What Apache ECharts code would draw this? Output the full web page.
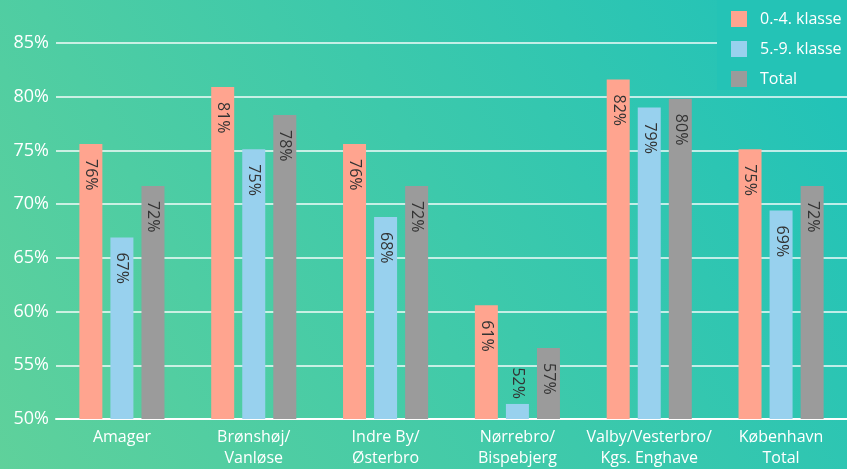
<!DOCTYPE html>
<html>
<head>
<meta charset="utf-8">
<script src="https://cdn.jsdelivr.net/npm/echarts@6/dist/echarts.min.js"></script>
<style>
html,body{margin:0;padding:0;}
#c{width:847px;height:469px;}
</style>
</head>
<body>
<div id="c"></div>
<script>
const categories = ['Amager', 'Brønshøj/\nVanløse', 'Indre By/\nØsterbro', 'Nørrebro/\nBispebjerg', 'Valby/Vesterbro/\nKgs. Enghave', 'København\nTotal'];
const seriesNames = ['0.-4. klasse', '5.-9. klasse', 'Total'];
const valuesYoung = [75.6, 80.9, 75.6, 60.6, 81.6, 75.1];
const valuesOld = [66.9, 75.1, 68.8, 51.4, 79.0, 69.4];
const valuesTotal = [71.7, 78.3, 71.7, 56.6, 79.8, 71.7];
const labelsYoung = [76, 81, 76, 61, 82, 75];
const labelsOld = [67, 75, 68, 52, 79, 69];
const labelsTotal = [72, 78, 72, 57, 80, 72];
const yTicks = [50, 55, 60, 65, 70, 75, 80, 85];

const colors = ['#ffa48f', '#98d1ee', '#9b9b9b'];
const FONT = 'Open Sans';

function mkSeries(name, vals, labs, color) {
  return {
    name: name,
    type: 'bar',
    data: vals.map(v => {
      const item = { value: v };
      if (v - yTicks[0] < 4) {
        item.label = { position: 'top', align: 'right', distance: 5 };
      }
      return item;
    }),
    barWidth: 23,
    barGap: '35%',
    itemStyle: { color: color },
    label: {
      show: true,
      position: 'insideTop',
      rotate: -90,
      align: 'left',
      verticalAlign: 'middle',
      distance: 15,
      color: '#333',
      fontSize: 16,
      fontFamily: FONT,
      formatter: p => labs[p.dataIndex] + '%'
    }
  };
}

const chart = echarts.init(document.getElementById('c'));
chart.setOption({
  animation: false,
  backgroundColor: new echarts.graphic.LinearGradient(0, 1, 1, 0, [
    { offset: 0, color: '#5fd19b' },
    { offset: 1, color: '#1fc2b9' }
  ]),
  textStyle: { fontFamily: FONT },
  legend: {
    orient: 'vertical',
    left: 717,
    top: 0,
    padding: [11, 10, 3, 14],
    itemWidth: 16,
    itemHeight: 16,
    itemGap: 14,
    backgroundColor: '#24c3b6',
    icon: 'rect',
    data: seriesNames,
    textStyle: { color: '#fff', fontSize: 16, fontFamily: FONT, padding: [0, 0, 0, 8] }
  },
  grid: { left: 56, right: 0, top: 43, bottom: 48.5, containLabel: false },
  xAxis: {
    type: 'category',
    data: categories,
    axisLine: { show: true, lineStyle: { color: '#ffffff', width: 2 } },
    axisTick: { show: false },
    axisLabel: { color: '#fff', fontSize: 16, lineHeight: 21, margin: 8, fontFamily: FONT, interval: 0 }
  },
  yAxis: {
    type: 'value',
    min: yTicks[0],
    max: yTicks[yTicks.length - 1],
    interval: 5,
    axisLine: { show: false },
    axisTick: { show: false },
    axisLabel: { color: '#fff', fontSize: 18, margin: 7, fontFamily: FONT, formatter: v => v + '%' },
    splitLine: { lineStyle: { color: 'rgba(255,255,255,0.7)', width: 2 } }
  },
  series: [
    mkSeries(seriesNames[0], valuesYoung, labelsYoung, colors[0]),
    mkSeries(seriesNames[1], valuesOld, labelsOld, colors[1]),
    mkSeries(seriesNames[2], valuesTotal, labelsTotal, colors[2])
  ]
});
</script>
</body>
</html>
